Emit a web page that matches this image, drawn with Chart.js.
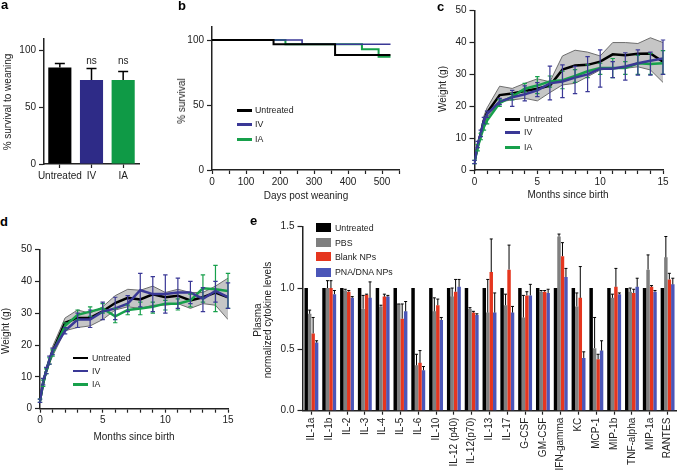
<!DOCTYPE html>
<html><head><meta charset="utf-8">
<script src="https://cdn.jsdelivr.net/npm/chart.js@4/dist/chart.umd.min.js"></script>
<style>
html,body{margin:0;padding:0;background:#fff;width:679px;height:470px;overflow:hidden;position:relative;font-family:"Liberation Sans",Arial,sans-serif;color:#222}
canvas{position:absolute}
.t{position:absolute;white-space:nowrap;font-size:10px;line-height:10px;font-weight:normal;color:#222;transform:translate(-50%,-50%);z-index:2}
.r{transform:translate(-50%,-50%) rotate(-90deg)}
.lab{position:absolute;font-weight:bold;font-size:13px;line-height:1;color:#000}
.lg{position:absolute;height:2.5px;width:15px}
.lt{position:absolute;font-size:8.8px;line-height:1;transform:translateY(-50%);white-space:nowrap}
.sq{position:absolute;width:15px;height:9px}
</style></head><body>
<canvas id="ca" width="150" height="190" style="left:0;top:0"></canvas>
<canvas id="cb" width="250" height="205" style="left:160px;top:0"></canvas>
<canvas id="cc" width="259" height="205" style="left:420px;top:0"></canvas>
<canvas id="cd" width="245" height="215" style="left:0;top:230px"></canvas>
<canvas id="ce" width="449" height="255" style="left:240px;top:215px"></canvas>

<div class="lab" style="left:1px;top:-2px">a</div>
<div class="lab" style="left:178px;top:-1px">b</div>
<div class="lab" style="left:437px;top:0px">c</div>
<div class="lab" style="left:0px;top:215px">d</div>
<div class="lab" style="left:250px;top:214px">e</div>

<div class="t r" style="left:8px;top:102px">% survival to weaning</div>
<div class="t r" style="left:182px;top:101px">% survival</div>
<div class="t" style="left:306px;top:196px">Days post weaning</div>
<div class="t r" style="left:443px;top:89px">Weight (g)</div>
<div class="t" style="left:568px;top:195px">Months since birth</div>
<div class="t r" style="left:6px;top:331px">Weight (g)</div>
<div class="t" style="left:134px;top:437px">Months since birth</div>
<div class="t r" style="left:258px;top:320px">Plasma</div>
<div class="t r" style="left:268px;top:320px">normalized cytokine levels</div>

<!-- legend b -->
<div class="lg" style="left:237px;top:109px;background:#000"></div><div class="lt" style="left:255px;top:110px">Untreated</div>
<div class="lg" style="left:237px;top:123px;background:#3a3896"></div><div class="lt" style="left:255px;top:124px">IV</div>
<div class="lg" style="left:237px;top:138px;background:#17a04b"></div><div class="lt" style="left:255px;top:139px">IA</div>
<!-- legend c -->
<div class="lg" style="left:505px;top:118px;background:#000"></div><div class="lt" style="left:524px;top:119px">Untreated</div>
<div class="lg" style="left:505px;top:131px;background:#3a3896"></div><div class="lt" style="left:524px;top:132px">IV</div>
<div class="lg" style="left:505px;top:146px;background:#17a04b"></div><div class="lt" style="left:524px;top:147px">IA</div>
<!-- legend d -->
<div class="lg" style="left:73px;top:356.5px;background:#000"></div><div class="lt" style="left:92px;top:357.5px">Untreated</div>
<div class="lg" style="left:73px;top:369.5px;background:#3a3896"></div><div class="lt" style="left:92px;top:370.5px">IV</div>
<div class="lg" style="left:73px;top:383px;background:#17a04b"></div><div class="lt" style="left:92px;top:384px">IA</div>
<!-- legend e -->
<div class="sq" style="left:316px;top:223px;background:#000"></div><div class="lt" style="left:335px;top:227.7px">Untreated</div>
<div class="sq" style="left:316px;top:238px;background:#7f7f7f"></div><div class="lt" style="left:335px;top:242.7px">PBS</div>
<div class="sq" style="left:316px;top:252px;background:#e5361f"></div><div class="lt" style="left:335px;top:256.7px">Blank NPs</div>
<div class="sq" style="left:316px;top:267.5px;background:#4b56b8"></div><div class="lt" style="left:335px;top:272px">PNA/DNA NPs</div>

<script>
// ---------- DATA ----------
// panel a
const survivalGroups = ['Untreated', 'IV', 'IA'];
const survivalToWeaning = [85, 74, 74];
const survivalToWeaningErr = [88.5, 84, 81.5];
const survivalSig = ['', 'ns', 'ns'];

// panel b (Kaplan-Meier steps)
const kmUntreatedDays = [0, 181, 362, 525];
const kmUntreatedPct = [100, 96.7, 88.5, 88.5];
const kmIVDays = [0, 265, 525];
const kmIVPct = [100, 96.7, 96.7];
const kmIADays = [0, 216, 441, 490, 525];
const kmIAPct = [100, 96.7, 92.8, 87.2, 87.2];

// panels c and d
const months = [0, 0.25, 0.5, 0.75, 1, 2, 3, 4, 5, 6, 7, 8, 9, 10, 11, 12, 13, 14, 15];

const cUntreated = [2.5, 7.5, 11.5, 15.5, 18, 23.5, 24, 24.8, 25.5, 26.5, 31.5, 32.8, 33, 34, 36.3, 36, 36.5, 36.6, 34];
const cUntreatedHi = [3, 8.5, 12.5, 17, 19.5, 26.3, 25.6, 27.2, 28.6, 27.7, 35.8, 37.6, 37, 35.8, 40, 40, 39.7, 41.5, 40];
const cUntreatedLo = [2, 6.5, 10, 14, 16.5, 21.4, 22, 22.5, 21.7, 24.3, 26.7, 27.2, 29.3, 31.4, 31.9, 31.9, 32.4, 31.4, 27.5];
const cIV = [2.5, 8, 11.5, 15.5, 17.5, 21.5, 22.8, 23.8, 25, 27.2, 27.8, 29, 30, 31.8, 31.8, 32.5, 33.5, 34.3, 35];
const cIVLo = [2, 7, 10.5, 14.5, 16.5, 20.5, 20, 21.7, 23, 22, 22.7, 24, 24.6, 26, 29, 28.2, 29.8, 29.8, 30];
const cIVHi = [3, 9, 12.5, 16.5, 18.5, 22.5, 25, 26.4, 27.4, 32.6, 33, 32.5, 35.6, 37.7, 34, 36.8, 37.7, 37, 40.8];
const cIA = [2.5, 7, 10.5, 13.5, 15.5, 21, 23, 25.5, 26.5, 27.8, 28.2, 29.5, 31, 32, 32, 32, 33.5, 33.3, 33.5];
const cIALo = [2, 6, 9.5, 12.5, 14.5, 20, 22, 24.5, 24, 26, 25.5, 27.5, 29, 30, 29, 30, 30, 30, 30];
const cIAHi = [3, 8, 11.5, 14.5, 16.5, 22, 24, 27.2, 29.3, 29.5, 31, 31.5, 33, 33.5, 35, 34, 36, 36.5, 37.5];

const dUntreated = [2.5, 8, 12, 15, 18, 27, 28.5, 28.5, 30.6, 33.2, 34.8, 34.3, 35.9, 35, 35.5, 34, 35, 36.5, 35];
const dUntreatedHi = [3, 9, 13, 16, 19.5, 28.5, 31, 30, 32, 35.5, 37.5, 37.2, 38.5, 36.5, 37.5, 36.5, 36.5, 38.5, 41];
const dUntreatedLo = [2, 7, 11, 14, 16.5, 24.5, 25.5, 26, 28, 31, 32, 31.5, 32.5, 32.5, 33, 31.5, 33, 32.5, 28];
const dIV = [2.5, 8.5, 12, 15.5, 18, 24.5, 28, 28, 30.5, 31.5, 33, 37.2, 36, 36, 36.5, 36.5, 34.5, 37, 35];
const dIVLo = [2, 7.5, 11, 14, 17, 23.5, 25.5, 25.5, 28, 28, 30.5, 32, 30.5, 30, 31.5, 33, 30.5, 33.5, 31.5];
const dIVHi = [3, 9.5, 13, 16.5, 19, 25.5, 30, 31, 33.5, 35, 35.5, 42.5, 41.5, 42, 41, 40, 38, 40, 39.5];
const dIA = [2.5, 8, 12, 15, 17.5, 26, 29.5, 30.5, 31.5, 29, 31, 31.5, 32, 33, 33, 34, 37.8, 37.5, 37];
const dIALo = [2, 7, 11, 14, 16.5, 25, 28, 29, 30, 27, 29.5, 29.5, 30, 31, 31, 32, 33.5, 30.5, 31.5];
const dIAHi = [3, 9, 12.5, 16, 18.5, 27, 31, 32, 33, 31.5, 32.5, 33.5, 33.5, 34, 34.5, 36, 42, 45, 42.5];

// panel e
const cytokines = ['IL-1a', 'IL-1b', 'IL-2', 'IL-3', 'IL-4', 'IL-5', 'IL-6', 'IL-10', 'IL-12 (p40)', 'IL-12(p70)', 'IL-13', 'IL-17', 'G-CSF', 'GM-CSF', 'IFN-gamma', 'KC', 'MCP-1', 'MIP-1b', 'TNF-alpha', 'MIP-1a', 'RANTES'];
const eUntreated = [1, 1, 1, 1, 1, 1, 1, 1, 1, 1, 1, 1, 1, 1, 1, 1, 1, 1, 1, 1, 1];
const ePBS = [0.79, 1.0, 0.98, 0.83, 0.85, 0.87, 0.37, 0.81, 0.93, 0.83, 0.8, 0.86, 0.76, 0.97, 1.42, 0.85, 0.51, 0.92, 0.97, 1.15, 1.25];
const eBlank = [0.63, 1.0, 0.97, 0.945, 0.93, 0.75, 0.39, 0.86, 0.97, 0.8, 1.13, 1.15, 0.94, 0.97, 1.26, 0.92, 0.42, 1.01, 0.96, 1.01, 1.07];
const ePNA = [0.555, 0.95, 0.92, 0.92, 0.93, 0.81, 0.33, 0.74, 1.01, 0.78, 0.8, 0.8, 0.94, 0.96, 1.09, 0.43, 0.49, 0.95, 1.01, 0.97, 1.03];
const ePBSErr = [0.82, 1.06, 0.99, 0.94, 0.86, 0.87, 0.46, 0.92, 1.0, 0.84, 1.07, 0.95, 0.94, 0.98, 1.44, 0.96, 0.76, 0.95, 1.0, 1.27, 1.42];
const eBlankErr = [0.76, 1.06, 0.98, 0.95, 0.95, 0.87, 0.49, 0.91, 1.07, 0.81, 1.40, 1.35, 0.97, 0.98, 1.37, 1.175, 0.46, 1.16, 0.99, 1.02, 1.12];
const ePNAErr = [0.57, 0.98, 0.93, 1.05, 0.94, 0.89, 0.36, 0.76, 1.07, 0.79, 0.96, 0.85, 1.03, 0.99, 1.16, 0.48, 0.57, 0.96, 1.08, 0.98, 1.08];

// ---------- STYLE ----------
const AX = '#222';
const FONT = {family: '"Liberation Sans", Arial, sans-serif', size: 10};
const C_BLACK = '#000', C_IV = '#3a3896', C_IA = '#17a04b';
const pts = (xs, ys) => xs.map((x, i) => ({x, y: ys[i]}));
const base = (pad) => ({
  responsive: false, animation: false, events: [],
  layout: {padding: pad, autoPadding: false},
  plugins: {legend: {display: false}, tooltip: {enabled: false}}
});
const grid = (len) => ({display: true, drawOnChartArea: false, tickLength: len, color: AX, tickWidth: 1.2});
const border = {display: true, color: AX, width: 1.5};

function errPlugin(id, specs) {
  return {id, afterDatasetsDraw(chart) {
    const {ctx, scales: {x, y}} = chart;
    ctx.save();
    specs.forEach(sp => {
      ctx.strokeStyle = sp.color; ctx.lineWidth = 1.2;
      sp.x.forEach((xv, i) => {
        const px = x.getPixelForValue(xv), p1 = y.getPixelForValue(sp.lo[i]), p2 = y.getPixelForValue(sp.hi[i]);
        ctx.beginPath();
        ctx.moveTo(px, p1); ctx.lineTo(px, p2);
        ctx.moveTo(px - 2.2, p1); ctx.lineTo(px + 2.2, p1);
        ctx.moveTo(px - 2.2, p2); ctx.lineTo(px + 2.2, p2);
        ctx.stroke();
      });
    });
    ctx.restore();
  }};
}

// ---------- PANEL A ----------
new Chart(document.getElementById('ca'), {
  type: 'bar',
  data: {labels: survivalGroups, datasets: [{data: survivalToWeaning, backgroundColor: ['#000', '#2e2b87', '#0f9a46'], barPercentage: 0.73, categoryPercentage: 1}]},
  options: Object.assign(base({left: 4, top: 39, right: 11, bottom: 0}), {
    scales: {
      x: {grid: Object.assign(grid(4), {offset: false}), border, ticks: {font: FONT, color: AX, padding: 2, autoSkip: false, minRotation: 0, maxRotation: 0}, afterFit: s => { s.height = 26; }},
      y: {min: 0, max: 110, ticks: {stepSize: 50, font: FONT, color: AX, padding: 3}, grid: grid(5), border,
          afterBuildTicks: s => { s.ticks = s.ticks.filter(t => t.value % 50 === 0); }, afterFit: s => { s.width = 40; }}
    }
  }),
  plugins: [{id: 'errA', afterDatasetsDraw(chart) {
    const ctx = chart.ctx, meta = chart.getDatasetMeta(0), y = chart.scales.y;
    ctx.save(); ctx.strokeStyle = '#000'; ctx.lineWidth = 1.5;
    meta.data.forEach((bar, i) => {
      const top = y.getPixelForValue(survivalToWeaning[i]), hi = y.getPixelForValue(survivalToWeaningErr[i]);
      ctx.beginPath(); ctx.moveTo(bar.x, top); ctx.lineTo(bar.x, hi);
      ctx.moveTo(bar.x - 5, hi); ctx.lineTo(bar.x + 5, hi); ctx.stroke();
    });
    ctx.fillStyle = AX; ctx.font = '10px "Liberation Sans", Arial'; ctx.textAlign = 'center'; ctx.textBaseline = 'middle';
    survivalSig.forEach((s, i) => { if (s) ctx.fillText(s, meta.data[i].x, y.getPixelForValue(90)); });
    ctx.restore();
  }}]
});

// ---------- PANEL B ----------
new Chart(document.getElementById('cb'), {
  type: 'line',
  data: {datasets: [
    {data: pts(kmUntreatedDays, kmUntreatedPct), borderColor: C_BLACK, borderWidth: 2, stepped: true, pointRadius: 0, fill: false},
    {data: pts(kmIVDays, kmIVPct), borderColor: C_IV, borderWidth: 1.6, stepped: true, pointRadius: 0, fill: false},
    {data: pts(kmIADays, kmIAPct), borderColor: C_IA, borderWidth: 2, stepped: true, pointRadius: 0, fill: false}
  ]},
  options: Object.assign(base({left: 12, top: 27, right: 11, bottom: 0}), {
    scales: {
      x: {type: 'linear', min: 0, max: 550, ticks: {stepSize: 50, font: FONT, color: AX, padding: 2, autoSkip: false, maxRotation: 0,
          callback: v => (v % 100 === 0 ? v : '')}, grid: grid(4), border, afterFit: s => { s.height = 35; }},
      y: {min: 0, max: 110, ticks: {stepSize: 50, font: FONT, color: AX, padding: 3}, grid: grid(5), border,
          afterBuildTicks: s => { s.ticks = s.ticks.filter(t => t.value % 50 === 0); }, afterFit: s => { s.width = 40; }}
    }
  })
});

// ---------- PANELS C & D ----------
function weightChart(id, pad, yW, xH, un, unHi, unLo, iv, ivLo, ivHi, ia, iaLo, iaHi) {
  new Chart(document.getElementById(id), {
    type: 'line',
    data: {datasets: [
      {data: pts(months, iv), borderColor: C_IV, borderWidth: 2.5, pointRadius: 0, fill: false},
      {data: pts(months, ia), borderColor: C_IA, borderWidth: 2.5, pointRadius: 0, fill: false},
      {data: pts(months, un), borderColor: C_BLACK, borderWidth: 2.5, pointRadius: 0, fill: false},
      {data: pts(months, unLo), borderColor: '#6e6e6e', borderWidth: 1, pointRadius: 0, fill: false},
      {data: pts(months, unHi), borderColor: '#6e6e6e', borderWidth: 1, pointRadius: 0, fill: '-1', backgroundColor: '#c6c6c6'}
    ]},
    options: Object.assign(base(pad), {
      scales: {
        x: {type: 'linear', min: 0, max: 15, ticks: {stepSize: 1, font: FONT, color: AX, padding: 2, autoSkip: false, maxRotation: 0,
            callback: v => (v % 5 === 0 ? v : '')}, grid: grid(4), border, afterFit: s => { s.height = xH; }},
        y: {min: 0, max: 50, ticks: {stepSize: 10, font: FONT, color: AX, padding: 3}, grid: grid(5), border, afterFit: s => { s.width = yW; }}
      }
    }),
    plugins: [errPlugin('err' + id, [
      {x: months, lo: iaLo, hi: iaHi, color: C_IA},
      {x: months, lo: ivLo, hi: ivHi, color: C_IV}
    ])]
  });
}
weightChart('cc', {left: 14.5, top: 10.7, right: 16, bottom: 0}, 40, 35, cUntreated, cUntreatedHi, cUntreatedLo, cIV, cIVLo, cIVHi, cIA, cIALo, cIAHi);
weightChart('cd', {left: 2, top: 19.5, right: 17, bottom: 0}, 38, 36.3, dUntreated, dUntreatedHi, dUntreatedLo, dIV, dIVLo, dIVHi, dIA, dIALo, dIAHi);

// ---------- PANEL E ----------
const eSeries = [
  {label: 'Untreated', data: eUntreated, err: null, color: '#000'},
  {label: 'PBS', data: ePBS, err: ePBSErr, color: '#7f7f7f'},
  {label: 'Blank NPs', data: eBlank, err: eBlankErr, color: '#e5361f'},
  {label: 'PNA/DNA NPs', data: ePNA, err: ePNAErr, color: '#4b56b8'}
];
new Chart(document.getElementById('ce'), {
  type: 'bar',
  data: {labels: cytokines, datasets: eSeries.map(s => ({label: s.label, data: s.data, backgroundColor: s.color, barPercentage: 1, categoryPercentage: 0.78}))},
  options: Object.assign(base({left: 22.5, top: 11.7, right: 12.5, bottom: 0}), {
    scales: {
      x: {grid: Object.assign(grid(4), {offset: false}), border,
          ticks: {font: {family: FONT.family, size: 10}, color: AX, padding: 3, autoSkip: false, minRotation: 90, maxRotation: 90},
          afterFit: s => { s.height = 59.3; }},
      y: {min: 0, max: 1.5, ticks: {stepSize: 0.5, font: FONT, color: AX, padding: 3, callback: v => v.toFixed(1)}, grid: grid(5), border,
          afterFit: s => { s.width = 40; }}
    }
  }),
  plugins: [{id: 'errE', afterDatasetsDraw(chart) {
    const ctx = chart.ctx, y = chart.scales.y;
    ctx.save(); ctx.strokeStyle = '#000'; ctx.lineWidth = 1;
    eSeries.forEach((s, di) => {
      if (!s.err) return;
      chart.getDatasetMeta(di).data.forEach((bar, i) => {
        const p1 = y.getPixelForValue(s.data[i]), p2 = y.getPixelForValue(s.err[i]);
        ctx.beginPath(); ctx.moveTo(bar.x, p1); ctx.lineTo(bar.x, p2);
        ctx.moveTo(bar.x - 1.5, p2); ctx.lineTo(bar.x + 1.5, p2); ctx.stroke();
      });
    });
    ctx.restore();
  }}]
});
</script>
</body></html>
